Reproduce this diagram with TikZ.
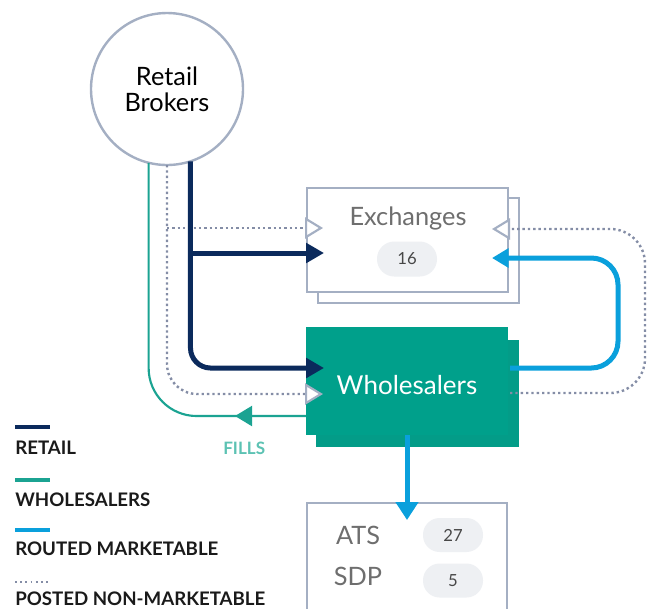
\documentclass[tikz,border=0pt]{standalone}
\usepackage{fontspec}
\setmainfont{Lato}
\usetikzlibrary{arrows.meta,calc}
\definecolor{navyc}{HTML}{0B2A5C}
\definecolor{tealc}{HTML}{1BA392}
\definecolor{bluec}{HTML}{0AA0DC}
\definecolor{dotc}{HTML}{848DA6}
\definecolor{boxc}{HTML}{A4AFC3}
\definecolor{whc}{HTML}{00A08B}
\definecolor{whback}{HTML}{039C88}
\definecolor{pillc}{HTML}{EEF0F3}
\definecolor{txtgray}{HTML}{6E6E6E}
\definecolor{fillsc}{HTML}{5CC2B3}
\definecolor{legtxt}{HTML}{1A1A1A}
\tikzset{
  navyTip/.tip={Triangle[length=13.5pt,width=14.5pt]},
  blueTip/.tip={Triangle[length=12.5pt,width=14pt]},
  downTip/.tip={Triangle[length=13.5pt,width=16.5pt]},
  tealTip/.tip={Triangle[length=12.75pt,width=15pt]},
  openTip/.tip={Triangle[length=13.5pt,width=16pt,line width=1.6pt,color=boxc,fill=white]},
  framebox/.style={draw=boxc, line width=1.7pt, fill=white, rectangle, inner sep=0pt, outer sep=0pt},
  whbox/.style={rectangle, inner sep=0pt, outer sep=0pt},
  pill/.style={fill=pillc, rounded corners=12.5pt, minimum width=45pt, minimum height=25.5pt, inner sep=0pt, text=black!72, font=\fontsize{12.5}{14}\selectfont},
  bigtext/.style={inner sep=0pt, text=txtgray, font=\fontsize{19}{22}\selectfont},
  legtext/.style={inner sep=0pt, anchor=base west, text=legtxt, font=\fontsize{14}{16}\selectfont\bfseries},
  navyline/.style={draw=navyc, line width=3.75pt},
  blueline/.style={draw=bluec, line width=3.75pt},
  tealline/.style={draw=tealc, line width=1.6pt},
  dotline/.style={draw=dotc, line width=1.8pt, dash pattern=on 1.8pt off 2.2pt},
}
\begin{document}
\begin{tikzpicture}[x=0.75pt,y=-0.75pt]
\useasboundingbox (0,0) rectangle (648,608);
% nodes
\node[circle, draw=boxc, line width=1.8pt, fill=white, minimum size=114pt, inner sep=0pt, outer sep=0pt, align=center, font=\fontsize{19}{19.5}\selectfont] (rb) at (167,89) {Retail\\Brokers};
\node[framebox, minimum width=150.75pt, minimum height=78.75pt] (exback) at (418.5,250.5) {};
\node[framebox, minimum width=150.75pt, minimum height=78pt] (ex) at (407.5,240) {};
\node[bigtext, anchor=base] (extxt) at (408,225) {Exchanges};
\node[pill, minimum height=26.25pt, rounded corners=13pt] (expill) at (407,259) {16};
\node[whbox, fill=whback, minimum width=152.25pt, minimum height=80.25pt] (whb) at (417.5,393.5) {};
\node[whbox, fill=whc, minimum width=151.5pt, minimum height=81pt] (wh) at (407,381) {};
\node[inner sep=0pt, anchor=base, text=white, font=\fontsize{19.5}{22}\selectfont] (whtxt) at (407,394) {Wholesalers};
\node[framebox, minimum width=150pt, minimum height=87pt] (ats) at (407,561) {};
\node[bigtext, anchor=base] (atstxt) at (358,544) {ATS};
\node[bigtext, anchor=base] (sdptxt) at (358,585.7) {SDP};
\node[pill] (atspill) at (453,535) {27};
\node[pill] (sdppill) at (453,580.5) {5};
\node[inner sep=0pt, anchor=base west, text=fillsc, font=\fontsize{12.8}{15}\selectfont\bfseries] (fills) at (223,454) {FILLS};
% coordinates
\coordinate (exNavy) at ($(ex.west)+(17,13)$);
\coordinate (exDot) at ($(ex.west)+(16,-12)$);
\coordinate (exDotR) at ($(ex.east)+(-16,-11)$);
\coordinate (exBlue) at ($(ex.east)+(-16,18)$);
\coordinate (whNavy) at ($(wh.west)+(18,-13)$);
\coordinate (whDot) at ($(wh.west)+(17,13)$);
\coordinate (whTeal) at ($(wh.west)+(0,35)$);
\coordinate (fillsTip) at ($(whTeal)+(-71,0)$);
\coordinate (whBlueR) at ($(wh.east)+(2,-13)$);
\coordinate (whDotR) at ($(wh.east)+(2,12)$);
\coordinate (atsTip) at ($(ats.north)+(0,17)$);
% connectors
\draw[tealline, rounded corners=36pt] (whTeal) -| (rb.-104.5);
\draw[tealline, -{tealTip}] (whTeal) -- (fillsTip);
\draw[dotline, rounded corners=22.5pt, -{openTip}] (rb.south) |- (whDot);
\draw[dotline, -{openTip}] (rb.south |- exDot) -- (exDot);
\draw[navyline, rounded corners=15pt, -{navyTip}] (rb.-72.4) |- (whNavy);
\draw[navyline, -{navyTip}] (rb.-72.4 |- exNavy) -- (exNavy);
\draw[blueline, rounded corners=20pt, -{blueTip}] (whBlueR) -| ($(exBlue)+(126,0)$) -- (exBlue);
\draw[dotline, rounded corners=26pt, -{openTip}] (whDotR) -| ($(exDotR)+(153,0)$) -- (exDotR);
\draw[blueline, -{downTip}] (wh.south) -- (atsTip);
% legend
\draw[navyc, line width=2.6pt] (15,427) -- (50,427);
\draw[tealc, line width=2.6pt] (15,480) -- (50,480);
\draw[bluec, line width=2.6pt] (15,530) -- (50,530);
\draw[dotc, line width=1.3pt, dash pattern=on 1.3pt off 2.6pt] (15,582) -- (50,582);
\node[legtext] (l1) at (15,454) {RETAIL};
\node[legtext] (l2) at (15,506) {WHOLESALERS};
\node[legtext] (l3) at (15,555.5) {ROUTED MARKETABLE};
\node[legtext] (l4) at (15,605) {POSTED NON-MARKETABLE};
\end{tikzpicture}
\end{document}
